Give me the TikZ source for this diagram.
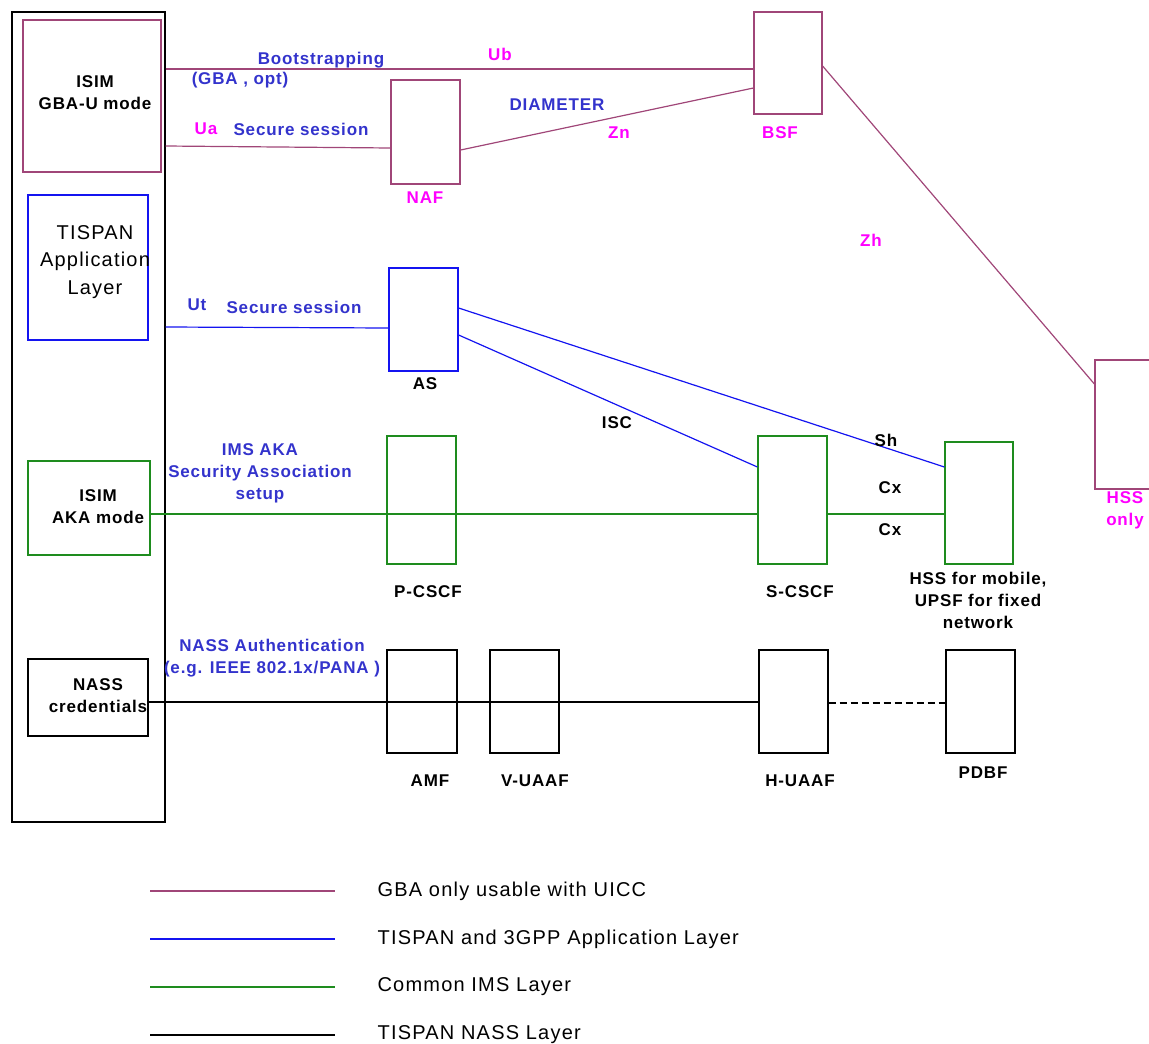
\documentclass[tikz,border=0pt]{standalone}
\usepackage{fontspec}
\setmainfont{Liberation Sans}
\newfontfamily\lblfont{Liberation Sans}[LetterSpace=5]
\newfontfamily\txtfont{Liberation Sans}[LetterSpace=6]
\usetikzlibrary{calc}
\definecolor{gbacol}{RGB}{160,70,120}
\definecolor{appcol}{RGB}{20,20,240}
\definecolor{imscol}{RGB}{30,140,30}
\definecolor{lblblue}{RGB}{51,51,204}
\definecolor{lblpink}{RGB}{255,0,255}

\begin{document}
\begin{tikzpicture}[x=1pt, y=-1pt, line width=1.2pt,
  box/.style={draw, inner sep=0pt, minimum width=69pt, minimum height=103pt},
  lbl/.style={font={\lblfont\bfseries\fontsize{17}{22}\selectfont}, inner sep=0pt, align=center},
  txt/.style={font={\txtfont\fontsize{20}{27.5}\selectfont}, inner sep=0pt, align=center},
  gba/.style={draw=gbacol},
  app/.style={draw=appcol},
  ims/.style={draw=imscol}]
  \clip (0,0) rectangle (1149,1044);
  % terminal side
  \node[box, minimum width=153pt, minimum height=810pt] (ue) at (88.5,417) {};
  \node[box, gba, minimum width=138pt, minimum height=152pt] (isimg) at (92,96) {};
  \node[lbl] (isimgtxt) at (95,93) {ISIM\\GBA-U mode};
  \node[box, app, minimum width=120pt, minimum height=145pt] (tispan) at (88,267.5) {};
  \node[txt] (tispantxt) at (95,262) {TISPAN\\Application\\Layer};
  \node[box, ims, minimum width=122pt, minimum height=94pt] (isima) at (89,508) {};
  \node[lbl] (isimatxt) at (98,507) {ISIM\\AKA mode};
  \node[box, minimum width=120pt, minimum height=77pt] (nass) at (88,697.5) {};
  \node[lbl] (nasstxt) at (98,695.5) {NASS\\credentials};

  % network elements
  \node[box, gba, minimum height=104pt] (naf) at (425.5,132) {};
  \node[box, gba, minimum width=68pt, minimum height=102pt] (bsf) at (788,63) {};
  \node[box, gba, minimum width=70pt, minimum height=129pt] (hss) at (1130,424.5) {};
  \node[box, app] (as) at (423.5,319.5) {};
  \node[box, ims, minimum height=128pt] (pcscf) at (421.5,500) {};
  \node[box, ims, minimum height=128pt] (scscf) at (792.5,500) {};
  \node[box, ims, minimum width=68pt, minimum height=122pt] (upsf) at (979,503) {};
  \node[box, minimum width=70pt] (amf) at (422,701.5) {};
  \node[box] (vuaaf) at (524.5,701.5) {};
  \node[box] (huaaf) at (793.5,701.5) {};
  \node[box] (pdbf) at (980.5,701.5) {};

  \node[lbl, lblpink] (naftxt) at (425,198) {NAF};
  \node[lbl, lblpink] (bsftxt) at (780,133) {BSF};
  \node[lbl, lblpink] (hsstxt) at (1125,510) {HSS\\only};
  \node[lbl] (astxt) at (425,384) {AS};
  \node[lbl] (pcscftxt) at (428,592) {P-CSCF};
  \node[lbl] (scscftxt) at (800,592) {S-CSCF};
  \node[lbl] (upsftxt) at (978,600.5) {HSS for mobile,\\UPSF for fixed\\network};
  \node[lbl] (amftxt) at (430,781) {AMF};
  \node[lbl] (vuaaftxt) at (535,781) {V-UAAF};
  \node[lbl] (huaaftxt) at (800,781) {H-UAAF};
  \node[lbl] (pdbftxt) at (983,773) {PDBF};

  % GBA links
  \draw[gba] (ue.east |- 0,69) -- (bsf.west |- 0,69);
  \draw[gba] (ue.east |- 0,146) -- (naf.west |- 0,148);
  \draw[gba] (naf.east |- 0,150) -- (bsf.west |- 0,88);
  \draw[gba] (bsf.east |- 0,66) -- (hss.west |- 0,384);
  \node[lbl, lblblue] (bootstxt) at (321,60) {Bootstrapping};
  \node[lbl, lblblue] (gbaopttxt) at (240,80) {(GBA , opt)};
  \node[lbl, lblpink] (ubtxt) at (500,54) {Ub};
  \node[lbl, lblpink] (uatxt) at (206,129) {Ua};
  \node[lbl, lblblue] (uasesstxt) at (301,129) {Secure session};
  \node[lbl, lblblue] (diamtxt) at (557,105) {DIAMETER};
  \node[lbl, lblpink] (zntxt) at (619,133) {Zn};
  \node[lbl, lblpink] (zhtxt) at (871,240) {Zh};

  % application layer links
  \draw[app] (ue.east |- 0,327) -- (as.west |- 0,328);
  \draw[app] (as.east |- 0,308) -- (upsf.west |- 0,467);
  \draw[app] (as.east |- 0,335) -- (scscf.west |- 0,467);
  \node[lbl, lblblue] (uttxt) at (197,305) {Ut};
  \node[lbl, lblblue] (utsesstxt) at (294,307) {Secure session};
  \node[lbl] (isctxt) at (617,423) {ISC};
  \node[lbl] (shtxt) at (886,440) {Sh};

  % IMS links
  \draw[ims] (isima.east |- 0,514) -- (scscf.west |- 0,514);
  \draw[ims] (scscf.east |- 0,514) -- (upsf.west |- 0,514);
  \node[lbl, lblblue] (imsakatxt) at (260,473.5) {IMS AKA\\Security Association\\setup};
  \node[lbl] (cxatxt) at (890,488) {Cx};
  \node[lbl] (cxbtxt) at (890,530) {Cx};

  % NASS links
  \draw (nass.east |- 0,702) -- (huaaf.west |- 0,702);
  \draw[line width=2.5pt, dash pattern=on 7pt off 4pt] (huaaf.east |- 0,703) -- (pdbf.west |- 0,703);
  \node[lbl, lblblue] (nauthtxt) at (272,658.5) {NASS Authentication\\(e.g. IEEE 802.1x/PANA )};

  % legend
  \foreach \y/\c/\t [count=\i] in {891/gbacol/GBA only usable with UICC,
      939/appcol/TISPAN and 3GPP Application Layer,
      987/imscol/Common IMS Layer,
      1035/black/TISPAN NASS Layer} {
    \coordinate (leg\i) at (150,\y);
    \node[txt, anchor=west] (legtxt\i) at (377,\y) {\t};
    \draw[draw=\c] (leg\i) -- ++(185,0);
  }
\end{tikzpicture}
\end{document}
